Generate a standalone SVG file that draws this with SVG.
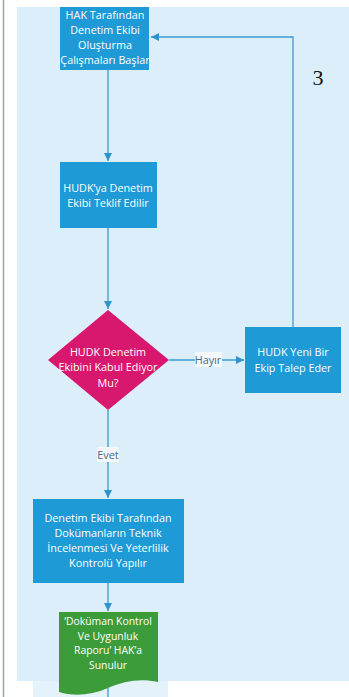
<svg xmlns="http://www.w3.org/2000/svg" width="349" height="697" viewBox="0 0 349 697">
<defs>
<style>
.box{fill:#1e9ad6}
.lbl{font-family:"Open Sans","Noto Sans",sans-serif;font-size:10.8px;fill:#ffffff;text-anchor:middle}
.doc{font-size:10.4px}
.elbl{font-family:"Open Sans","Noto Sans",sans-serif;font-size:10.8px;fill:#4a6a80;text-anchor:middle}
.edge{fill:none;stroke:#3a9cd2;stroke-width:1.3}
</style>
<marker id="ah" viewBox="0 0 10 10" refX="10" refY="5" markerWidth="8" markerHeight="8" markerUnits="userSpaceOnUse" orient="auto">
<path d="M0,0 L10,5 L0,10 Z" fill="#2f93cc"/>
</marker>
</defs>
<rect x="0" y="0" width="349" height="697" fill="#ffffff"/>
<rect x="17" y="7" width="332" height="674" fill="#dbeefa"/>
<rect x="33" y="681" width="135" height="16" fill="#e3f2fb"/>
<line x1="3.5" y1="0" x2="3.5" y2="697" stroke="#9aa6ad" stroke-width="1.5"/>
<text x="318" y="85" font-family="'Liberation Serif',serif" font-size="22" fill="#111111" text-anchor="middle">3</text>

<g id="connectors">
<line class="edge" x1="108" y1="70" x2="108" y2="161" marker-end="url(#ah)"/>
<line class="edge" x1="108" y1="228" x2="108" y2="309" marker-end="url(#ah)"/>
<line class="edge" x1="169" y1="360" x2="244" y2="360" marker-end="url(#ah)"/>
<polyline class="edge" points="293,327 293,37 151,37" marker-end="url(#ah)"/>
<line class="edge" x1="108" y1="410" x2="108" y2="498" marker-end="url(#ah)"/>
<line class="edge" x1="108" y1="583" x2="108" y2="611" marker-end="url(#ah)"/>
<line class="edge" x1="108" y1="688" x2="108" y2="697"/>
<rect x="195" y="352" width="27" height="15" fill="#f4f9fd"/>
<text class="elbl" x="208" y="364">Hayır</text>
<rect x="97" y="447" width="22" height="15" fill="#f4f9fd"/>
<text class="elbl" x="108" y="459">Evet</text>
</g>

<g id="n1">
<rect class="box" x="60" y="7" width="89" height="63"/>
<text class="lbl" x="105" y="19">HAK Tarafından</text>
<text class="lbl" x="105" y="34">Denetim Ekibi</text>
<text class="lbl" x="105" y="49">Oluşturma</text>
<text class="lbl" x="105" y="64">Çalışmaları Başlar</text>
</g>

<g id="n2">
<rect class="box" x="60" y="162" width="97" height="66"/>
<text class="lbl" x="108" y="192">HUDK’ya Denetim</text>
<text class="lbl" x="108" y="207">Ekibi Teklif Edilir</text>
</g>

<g id="n3">
<polygon points="108,310 169,360 108,410 48,360" fill="#d8176e"/>
<text class="lbl" x="108" y="356">HUDK Denetim</text>
<text class="lbl" x="108" y="371">Ekibini Kabul Ediyor</text>
<text class="lbl" x="108" y="387">Mu?</text>
</g>

<g id="n4">
<rect class="box" x="245" y="327" width="96" height="66"/>
<text class="lbl" x="293" y="356">HUDK Yeni Bir</text>
<text class="lbl" x="293" y="372">Ekip Talep Eder</text>
</g>

<g id="n5">
<rect class="box" x="33" y="499" width="151" height="84"/>
<text class="lbl" x="108" y="522">Denetim Ekibi Tarafından</text>
<text class="lbl" x="108" y="537">Dokümanların Teknik</text>
<text class="lbl" x="108" y="552">İncelenmesi Ve Yeterlilik</text>
<text class="lbl" x="108" y="567">Kontrolü Yapılır</text>
</g>

<g id="n6">
<path d="M59,612 H158 V682 C140,678 124,681 108,688 C92,695 74,697 59,692 Z" fill="#3d9c3a"/>
<text class="lbl doc" x="108" y="625">‘Doküman Kontrol</text>
<text class="lbl doc" x="108" y="639.5">Ve Uygunluk</text>
<text class="lbl doc" x="108" y="654">Raporu’ HAK’a</text>
<text class="lbl doc" x="108" y="668.5">Sunulur</text>
</g>
</svg>
